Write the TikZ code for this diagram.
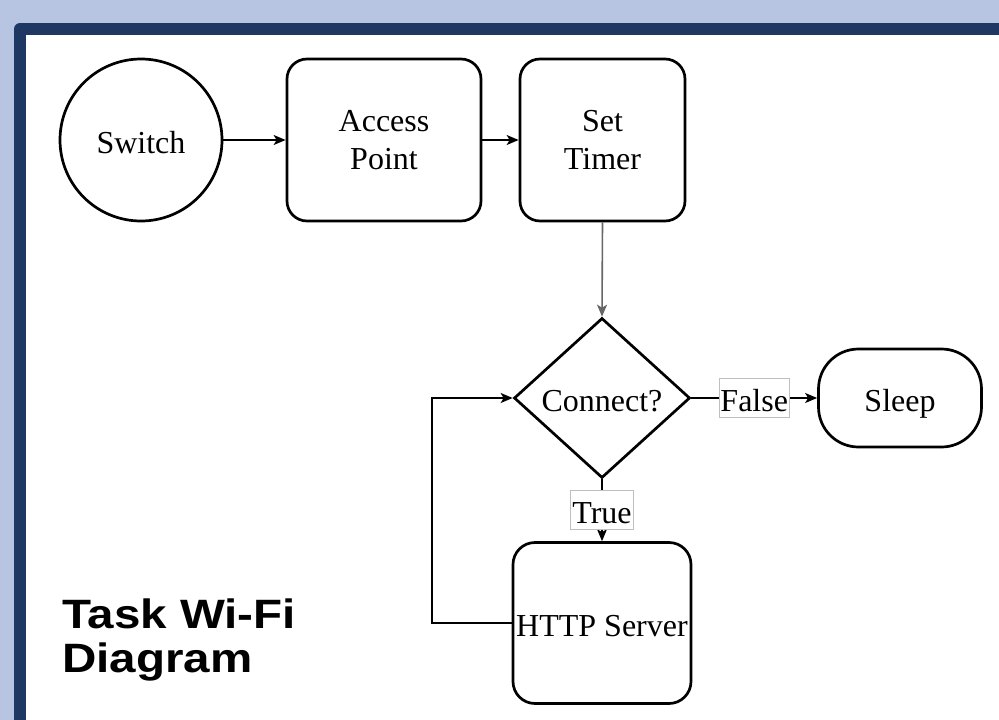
\documentclass[tikz,border=0pt]{standalone}
\usepackage{fontspec}
\setmainfont{Liberation Serif}
\newfontfamily\titlefont[FakeStretch=1.16]{Liberation Sans}
\usetikzlibrary{arrows.meta,shapes.geometric}
\definecolor{fondbleu}{HTML}{B7C5E3}
\definecolor{cadre}{HTML}{1F3763}
\tikzset{
  wf_node/.style = {align=center, inner sep=0pt, text centered, draw=black,
    line width=2.7pt, font=\fontsize{32}{38}\selectfont},
  wf_one/.style = {text height=30pt, text depth=4pt},% une seule ligne
  wf_circ/.style = {wf_node, wf_one, circle, minimum size=162pt},% debut
  wf_box/.style = {wf_node, rectangle, rounded corners=20pt},% etape
  wf_dec/.style = {wf_node, wf_one, diamond, aspect=1.1, minimum width=176pt,
    minimum height=160pt},% test
  wf_end/.style = {wf_node, wf_one, rectangle, rounded corners=40pt,
    minimum width=163pt, minimum height=98pt},% fin
  wf_lbl/.style = {fill=white, draw=black!25, line width=0.8pt, inner sep=1.5pt,
    text height=31pt, text depth=5pt, font=\fontsize{32}{38}\selectfont},
  wf_arr/.style = {-{Stealth[length=12pt,width=10pt,inset=3pt]}, line width=1.6pt}
}
\begin{document}
\begin{tikzpicture}[x=1pt,y=-1pt]
    \clip (0,0) rectangle (999,720);
    \fill[fondbleu] (0,0) rectangle (999,720);
    \fill[cadre, rounded corners=6pt] (14,23) rectangle (1040,760);
    \fill[white] (26,35) rectangle (1040,760);

    \node [wf_circ] (switch) at (141,140) {Switch};
    \node [wf_box, minimum width=194pt, minimum height=162pt] (ap) at (384,140) {Access\\Point};
    \node [wf_box, minimum width=165pt, minimum height=162pt] (timer) at (602.5,140) {Set\\Timer};
    \node [wf_dec] (conn) at (602,398) {Connect?};
    \node [wf_end] (sleep) at (900,398) {Sleep};
    \node [wf_box, wf_one, rounded corners=22pt, minimum width=178pt, minimum height=161pt] (http) at (602,623) {HTTP Server};
    \coordinate (retour) at (432,398);

    \node [font=\titlefont\bfseries\fontsize{41}{44}\selectfont, align=left,
      anchor=base west, inner sep=0pt] (titre) at (62,672) {Task Wi-Fi\\Diagram};

    \draw [wf_arr] (switch.east) -- (ap.west);
    \draw [wf_arr] (ap.east) -- (timer.west);
    \draw [wf_arr, black!60] (timer.south) -- (conn.north);
    \draw [wf_arr] (conn.east) -- node [wf_lbl] {False} (sleep.west);
    \draw [wf_arr] (conn.south) -- node [wf_lbl] {True} (http.north);
    \draw [wf_arr] (http.west) -| (retour) -- (conn.west);
\end{tikzpicture}
\end{document}
